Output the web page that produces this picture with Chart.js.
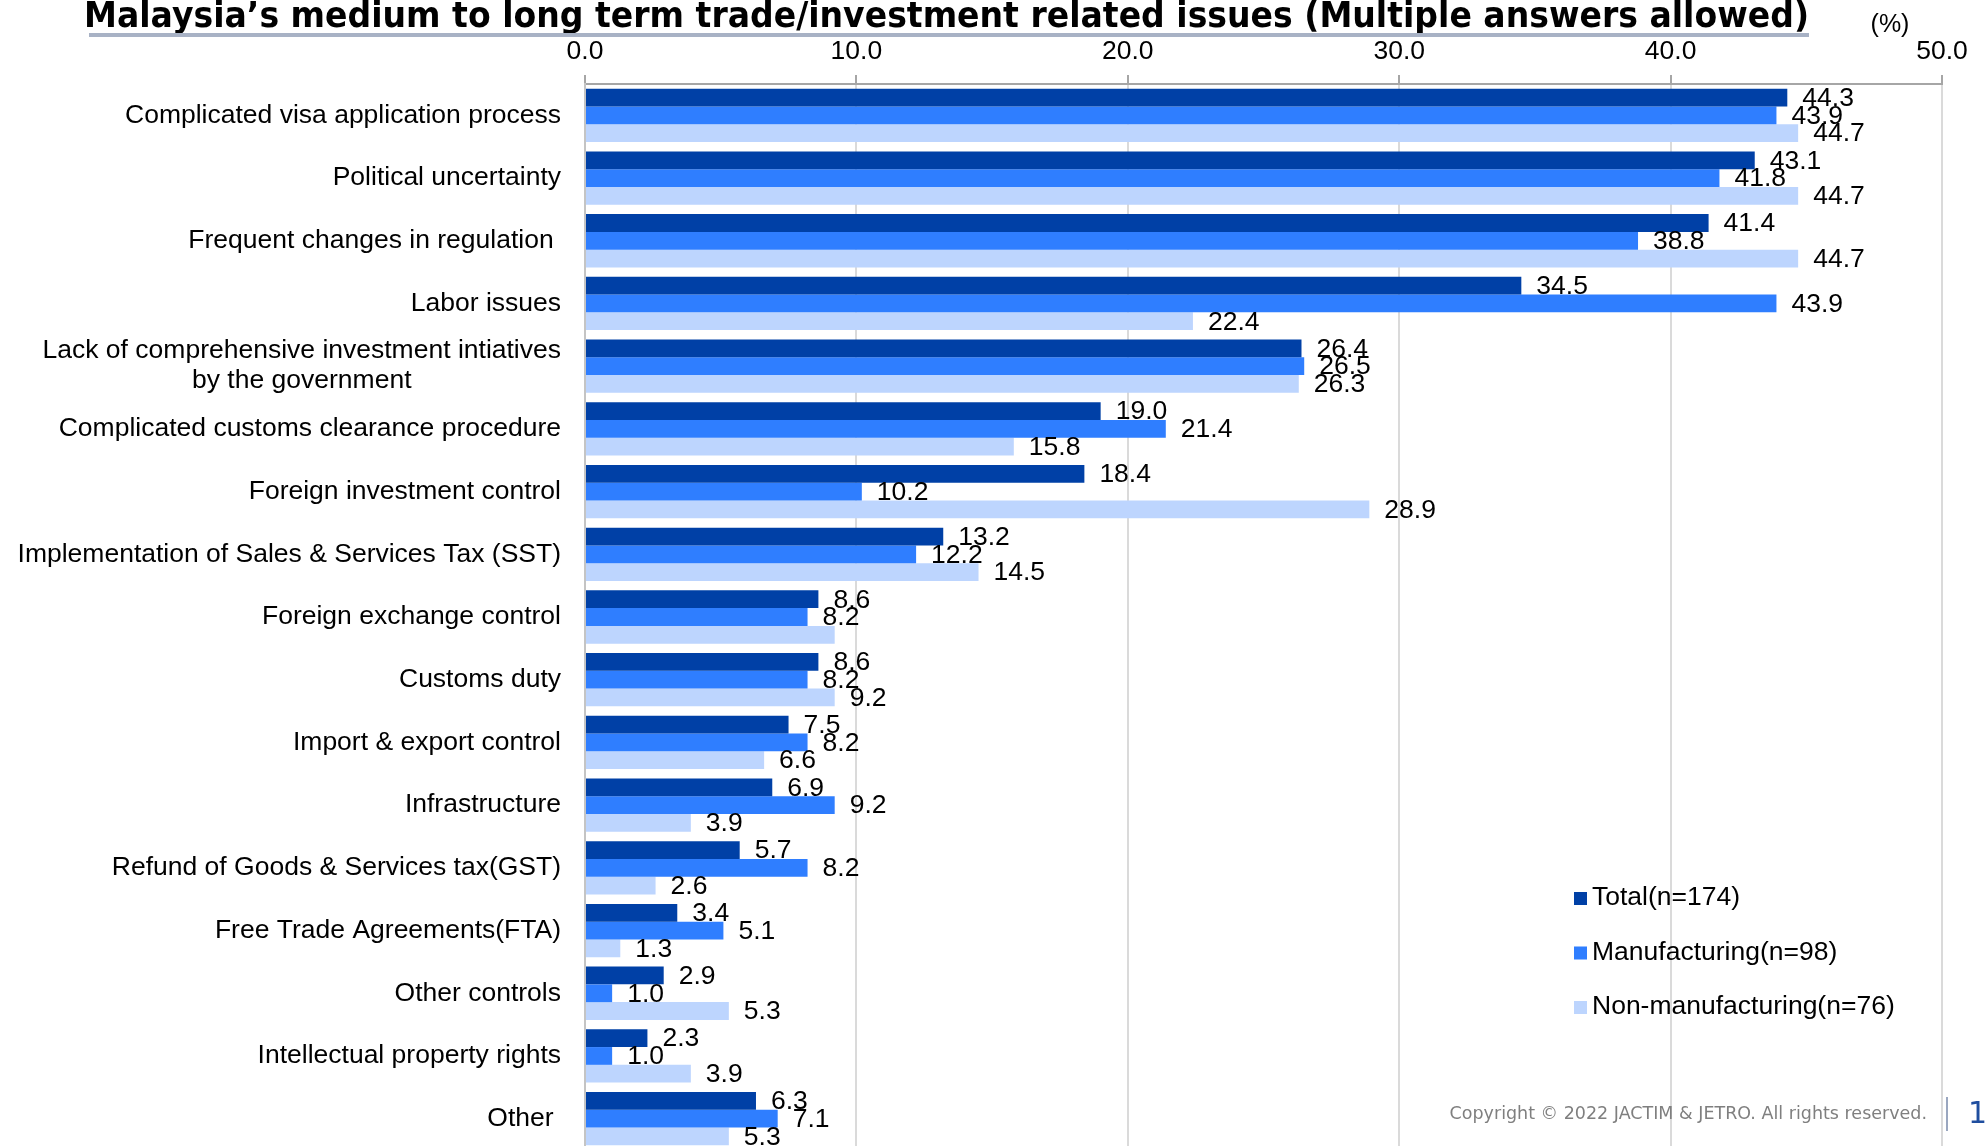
<!DOCTYPE html>
<html>
<head>
<meta charset="utf-8">
<script src="https://cdn.jsdelivr.net/npm/chart.js@4.4.1/dist/chart.umd.min.js"></script>
<style>
	html, body { margin: 0; padding: 0; overflow: hidden; background: #fff; }
	canvas { display: block; }
</style>
</head>
<body>
<canvas id="chart" width="1986" height="1152"></canvas>
<script>
const categories = [
	'Complicated visa application process',
	'Political uncertainty',
	'Frequent changes in regulation ',
	'Labor issues',
	['Lack of comprehensive investment intiatives', 'by the government'],
	'Complicated customs clearance procedure',
	'Foreign investment control',
	'Implementation of Sales & Services Tax (SST)',
	'Foreign exchange control',
	'Customs duty',
	'Import & export control',
	'Infrastructure',
	'Refund of Goods & Services tax(GST)',
	'Free Trade Agreements(FTA)',
	'Other controls',
	'Intellectual property rights',
	'Other ',
]

const totalValues = [44.3, 43.1, 41.4, 34.5, 26.4, 19.0, 18.4, 13.2, 8.6, 8.6, 7.5, 6.9, 5.7, 3.4, 2.9, 2.3, 6.3]
const manufacturingValues = [43.9, 41.8, 38.8, 43.9, 26.5, 21.4, 10.2, 12.2, 8.2, 8.2, 8.2, 9.2, 8.2, 5.1, 1.0, 1.0, 7.1]
const nonManufacturingValues = [44.7, 44.7, 44.7, 22.4, 26.3, 15.8, 28.9, 14.5, 9.2, 9.2, 6.6, 3.9, 2.6, 1.3, 5.3, 3.9, 5.3]

const seriesNames = ['Total(n=174)', 'Manufacturing(n=98)', 'Non-manufacturing(n=76)']
const xTickLabels = ['0.0', '10.0', '20.0', '30.0', '40.0', '50.0']

// value labels that are not printed: [dataset, category]
const hiddenLabels = [[2, 8]]

const title = 'Malaysia\u2019s medium to long term trade/investment related issues (Multiple answers allowed)'
const colors = ['#0040A6', '#2F7EFF', '#BDD5FE']
const FONT = '"Liberation Sans", Arial, sans-serif'
const WIDE = '"DejaVu Sans", Verdana, sans-serif'
const SIZE = 26.5

const valueLabels = {
	id: 'valueLabels',
	afterDatasetsDraw(chart) {
		const ctx = chart.ctx
		ctx.save()
		ctx.font = SIZE + 'px ' + FONT
		ctx.fillStyle = '#000'
		ctx.textAlign = 'left'
		ctx.textBaseline = 'middle'
		chart.data.datasets.forEach((dataset, i) => {
			chart.getDatasetMeta(i).data.forEach((bar, j) => {
				if (hiddenLabels.find((h) => h[0] === i && h[1] === j)) return
				ctx.fillText(dataset.data[j].toFixed(1), bar.x + 15, bar.y + 1)
			})
		})
		ctx.restore()
	},
}

const decorations = {
	id: 'decorations',
	afterDraw(chart) {
		const ctx = chart.ctx
		const yScale = chart.scales.y
		ctx.save()

		// title squeezed to run from 84 to 1809, then its rule
		ctx.fillStyle = '#000'
		ctx.font = 'bold 35px ' + WIDE
		ctx.textAlign = 'left'
		ctx.textBaseline = 'alphabetic'
		const titleWidth = ctx.measureText(title).width
		ctx.save()
		ctx.translate(84, 27)
		ctx.scale(1725 / titleWidth, 1)
		ctx.fillText(title, 0, 0)
		ctx.restore()
		ctx.strokeStyle = '#A8B2C5'
		ctx.lineWidth = 4
		ctx.beginPath()
		ctx.moveTo(89, 35)
		ctx.lineTo(1809, 35)
		ctx.stroke()

		ctx.font = '25px ' + FONT
		ctx.textAlign = 'center'
		ctx.textBaseline = 'middle'
		ctx.fillText('(%)', 1890, 25)

		// category names, right aligned, wrapped lines centred on each other
		ctx.font = SIZE + 'px ' + FONT
		categories.forEach((cat, i) => {
			const y = yScale.getPixelForTick(i)
			const right = 561
			if (Array.isArray(cat)) {
				const widths = cat.map((l) => ctx.measureText(l).width)
				const mid = right - Math.max(...widths) / 2
				ctx.textAlign = 'center'
				cat.forEach((line, k) => {
					ctx.fillText(line, mid, y + (k - (cat.length - 1) / 2) * 30)
				})
			} else {
				ctx.textAlign = 'right'
				ctx.fillText(cat, right, y)
			}
		})

		// legend
		ctx.textAlign = 'left'
		chart.data.datasets.forEach((dataset, i) => {
			const y = 898 + i * 54.5
			ctx.fillStyle = dataset.backgroundColor
			ctx.fillRect(1574, y - 6, 13, 13)
			ctx.fillStyle = '#000'
			ctx.fillText(dataset.label, 1592, y)
		})

		// footer
		ctx.font = '17.5px ' + WIDE
		ctx.fillStyle = '#7F7F7F'
		ctx.textAlign = 'right'
		ctx.fillText('Copyright \u00A9 2022 JACTIM & JETRO. All rights reserved.', 1927, 1114)
		ctx.strokeStyle = '#9AA7C0'
		ctx.lineWidth = 2
		ctx.beginPath()
		ctx.moveTo(1947, 1097)
		ctx.lineTo(1947, 1131)
		ctx.stroke()
		ctx.font = '30px ' + WIDE
		ctx.fillStyle = '#1F4E9F'
		ctx.textAlign = 'left'
		ctx.fillText('1', 1968, 1115)

		ctx.restore()
	},
}

const datasets = [totalValues, manufacturingValues, nonManufacturingValues].map((values, i) => ({
	label: seriesNames[i],
	data: values,
	backgroundColor: colors[i],
	borderWidth: 0,
	categoryPercentage: 0.85,
	barPercentage: 1.0,
}))

new Chart(document.getElementById('chart'), {
	type: 'bar',
	data: {
		labels: categories,
		datasets,
	},
	options: {
		indexAxis: 'y',
		responsive: false,
		animation: false,
		layout: {
			padding: { left: 0, right: 44, top: 0, bottom: 2 },
		},
		plugins: {
			legend: { display: false },
			title: { display: false },
			tooltip: { enabled: false },
		},
		scales: {
			x: {
				position: 'top',
				min: 0,
				max: 50,
				afterFit: (scale) => { scale.height = 84 },
				ticks: {
					stepSize: 10,
					padding: 7,
					color: '#000',
					font: { family: FONT, size: SIZE },
					callback: (value, index) => xTickLabels[index],
				},
				grid: {
					color: '#DADADA',
					lineWidth: 2,
					tickLength: 9,
					tickColor: '#A6A6A6',
				},
				border: { color: '#A6A6A6', width: 2 },
			},
			y: {
				afterFit: (scale) => { scale.width = 585 },
				ticks: { display: false },
				grid: { display: false },
				border: { color: '#C4C4C4', width: 2 },
			},
		},
	},
	plugins: [valueLabels, decorations],
})
</script>
</body>
</html>
